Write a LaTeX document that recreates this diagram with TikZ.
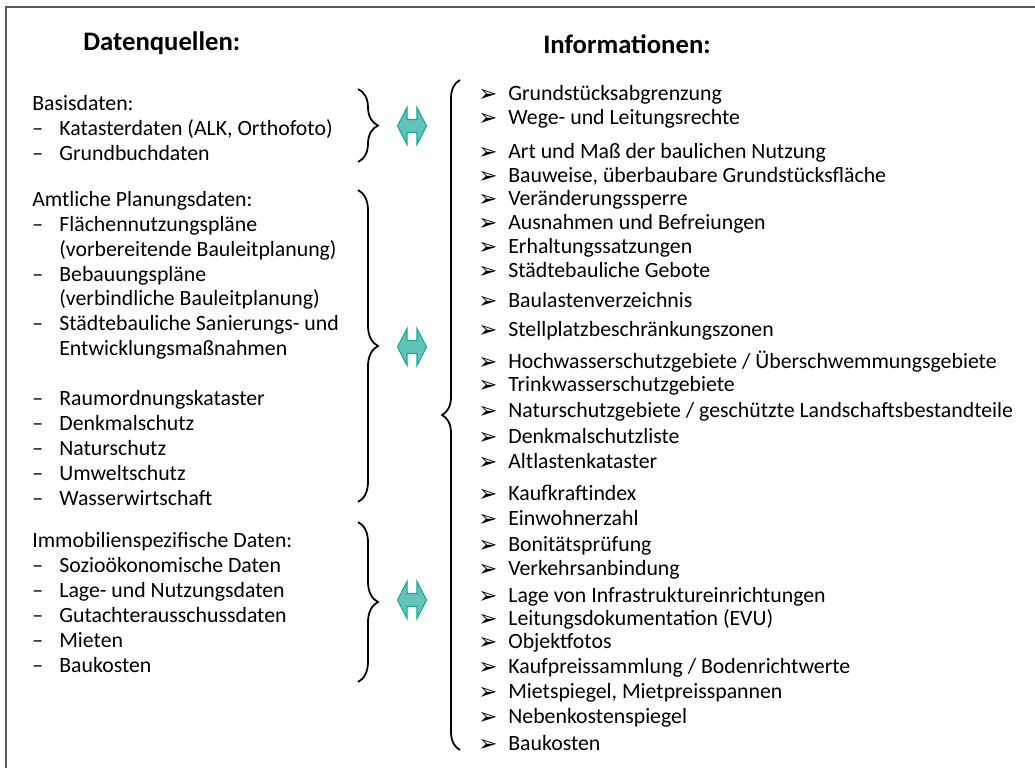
\documentclass[tikz,border=0pt]{standalone}
\usepackage{fontspec}
\setmainfont{Carlito}
\newfontfamily\symfont{DejaVu Sans}
\usetikzlibrary{decorations.pathreplacing}
\definecolor{pfeilfill}{RGB}{98,196,184}
\definecolor{pfeilrand}{RGB}{22,168,152}
\tikzset{
  txt/.style={anchor=west,inner sep=0pt,text height=9pt,text depth=3pt,font=\fontsize{12.4}{14}\selectfont},
  kopf/.style={anchor=west,inner sep=0pt,font=\fontsize{15.2}{17}\selectfont\bfseries},
  spitze/.style={anchor=west,inner sep=0pt,font=\symfont\fontsize{13}{15}\selectfont},
  klammer/.style={decorate,decoration={brace,amplitude=#1},line width=1pt},
  rahmen/.style={line width=1.1pt,draw=black!65},
  pics/doppelpfeil/.style={code={
    \draw[draw=pfeilrand,fill=pfeilfill,line width=.6pt]
      (-14.5,0) -- (-5,-18.5) -- (-5,-6.5) -- (5,-6.5) -- (5,-18.5) -- (14.5,0)
      -- (5,18.5) -- (5,6.5) -- (-5,6.5) -- (-5,18.5) -- cycle;}}
}
\begin{document}
\begin{tikzpicture}[x=0.02cm,y=-0.02cm]  % ------ Datenquellen / Informationen -------
\useasboundingbox (0,0) rectangle (1035,768);
\draw[rahmen] (1035,7) -| (6,768);
\node[kopf] (quellen) at (83,43) {Datenquellen:};
\node[kopf] (infos) at (543,44) {Informationen:};
% linke Spalte
\foreach \y/\t [count=\i] in {105/Basisdaten:, 201/Amtliche Planungsdaten:,
    542/Immobilienspezifische Daten:}
  \node[txt] (gruppe\i) at (32,\y) {\t};
\foreach \y/\t [count=\i] in {130/{Katasterdaten (ALK, Orthofoto)}, 155/Grundbuchdaten,
    226/Flächennutzungspläne, 276/Bebauungspläne, 325/Städtebauliche Sanierungs- und,
    400/Raumordnungskataster, 425/Denkmalschutz, 450/Naturschutz, 475/Umweltschutz,
    500/Wasserwirtschaft, 567/Sozioökonomische Daten, 592/Lage- und Nutzungsdaten,
    617/Gutachterausschussdaten, 642/Mieten, 667/Baukosten}{
  \node[txt] (strich\i) at (32,\y) {\textendash};
  \node[txt] (quelle\i) at (59,\y) {\t};
}
\foreach \y/\t [count=\i] in {251/(vorbereitende Bauleitplanung),
    300/(verbindliche Bauleitplanung), 350/Entwicklungsmaßnahmen}
  \node[txt] (weiter\i) at (59,\y) {\t};
\draw[klammer=.4cm] (358,89) -- (358,162);
\draw[klammer=.4cm] (358,190) -- (358,502);
\draw[klammer=.4cm] (358,522) -- (358,682);
\pic (pfeil1) at (412,126) {doppelpfeil};
\pic (pfeil2) at (412,347) {doppelpfeil};
\pic (pfeil3) at (412,600) {doppelpfeil};
% rechte Spalte
\draw[klammer=.36cm] (460,750) -- (460,80);
\foreach \y/\t [count=\i] in {95/Grundstücksabgrenzung, 119/Wege- und Leitungsrechte,
    153/Art und Maß der baulichen Nutzung, 177/{Bauweise, überbaubare Grundstücksfläche},
    200/Veränderungssperre, 224/Ausnahmen und Befreiungen, 248/Erhaltungssatzungen,
    272/Städtebauliche Gebote, 302/Baulastenverzeichnis, 331/Stellplatzbeschränkungszonen,
    363/{Hochwasserschutzgebiete / Überschwemmungsgebiete}, 386/Trinkwasserschutzgebiete,
    412/{Naturschutzgebiete / geschützte Landschaftsbestandteile}, 438/Denkmalschutzliste,
    463/Altlastenkataster, 495/Kaufkraftindex, 520/Einwohnerzahl, 546/Bonitätsprüfung,
    570/Verkehrsanbindung, 597/Lage von Infrastruktureinrichtungen,
    620/Leitungsdokumentation (EVU), 643/Objektfotos,
    668/{Kaufpreissammlung / Bodenrichtwerte}, 693/{Mietspiegel, Mietpreisspannen},
    718/Nebenkostenspiegel, 745/Baukosten}{
  \node[spitze] (spitze\i) at (478,\y) {➢};
  \node[txt] (info\i) at (508,\y) {\t};
}
\end{tikzpicture}
\end{document}
